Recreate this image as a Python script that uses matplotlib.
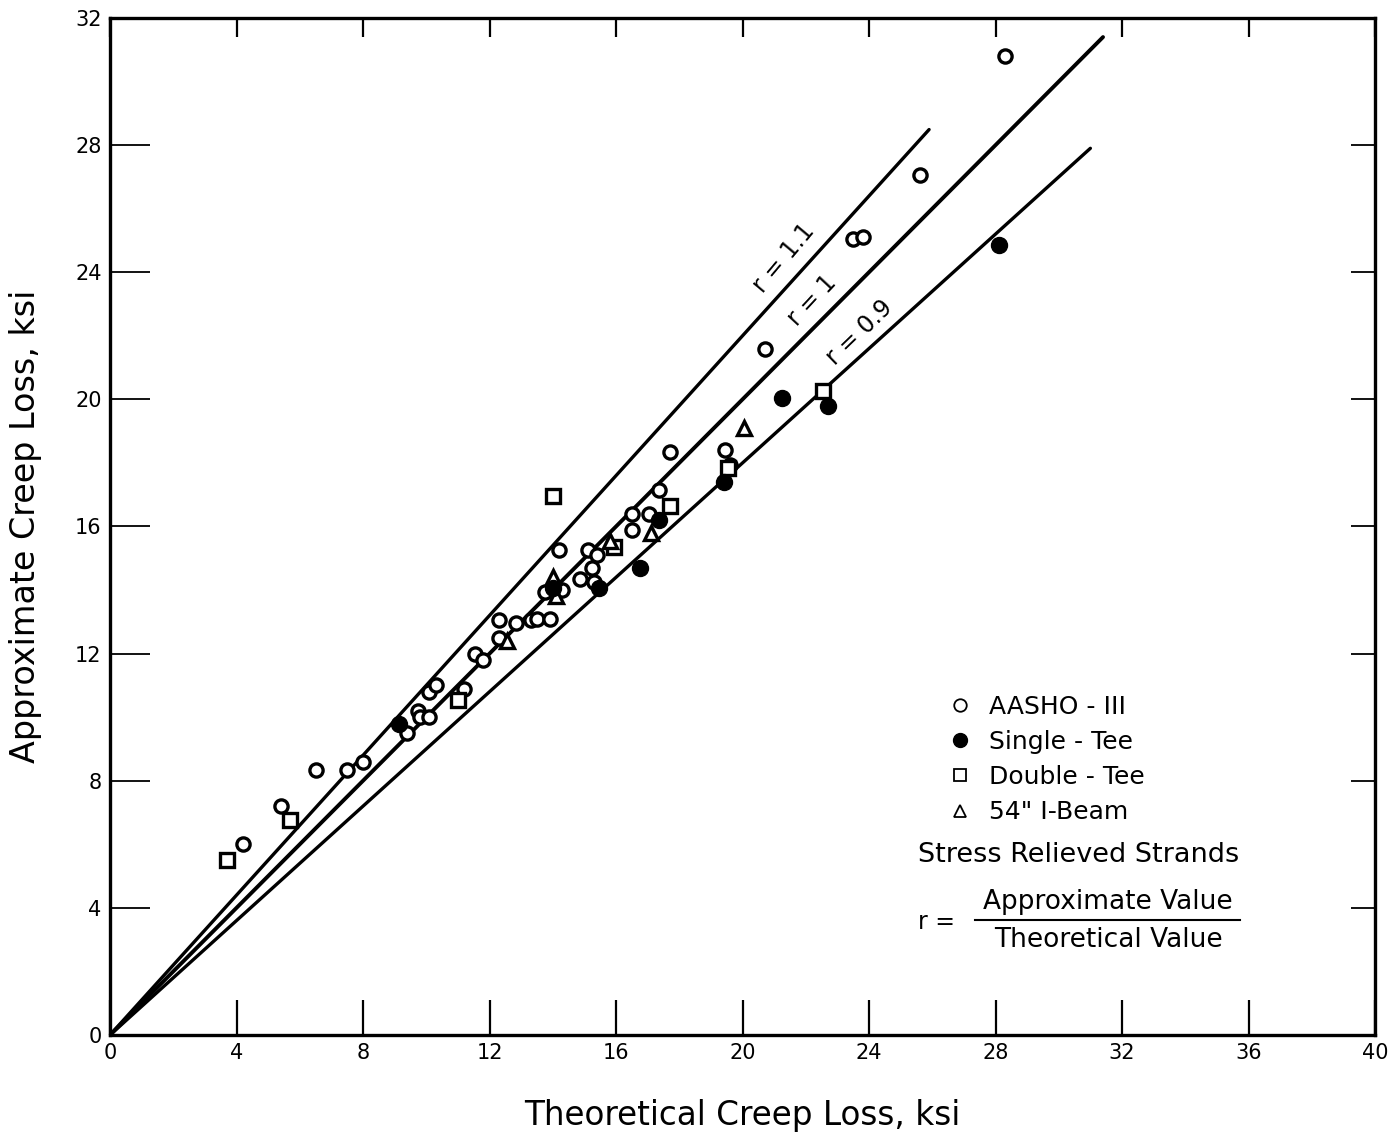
import matplotlib
matplotlib.use("Agg")
import matplotlib.pyplot as plt
from matplotlib.lines import Line2D

# Theoretical (x) vs approximate (y) creep loss, ksi
aasho_x = [4.2, 5.4, 6.5, 7.5, 8.0, 9.4, 9.75, 9.8, 10.1, 10.1, 10.3, 11.2, 11.55, 11.8,
           12.3, 12.3, 12.85, 13.3, 13.5, 13.75, 13.9, 14.2, 14.3, 14.85, 15.1, 15.25,
           15.3, 15.4, 16.5, 16.5, 17.05, 17.35, 17.7, 19.45, 19.6, 20.7, 23.5, 23.8,
           25.6, 28.3]
aasho_y = [6.0, 7.2, 8.35, 8.35, 8.6, 9.5, 10.2, 10.0, 10.0, 10.8, 11.0, 10.9, 12.0, 11.8,
           13.05, 12.5, 12.95, 13.05, 13.1, 13.95, 13.1, 15.25, 14.0, 14.35, 15.25, 14.7,
           14.25, 15.1, 16.4, 15.9, 16.4, 17.15, 18.35, 18.4, 17.95, 21.6, 25.05, 25.1,
           27.05, 30.8]

single_x = [9.15, 14.0, 15.45, 16.75, 17.35, 19.4, 21.25, 22.7, 28.1]
single_y = [9.8, 14.05, 14.05, 14.7, 16.2, 17.4, 20.05, 19.8, 24.85]

double_x = [3.7, 5.7, 11.0, 14.0, 15.95, 17.7, 19.55, 22.55]
double_y = [5.5, 6.75, 10.55, 16.95, 15.35, 16.65, 17.85, 20.25]

ibeam_x = [12.55, 14.0, 14.1, 15.8, 17.1, 20.05]
ibeam_y = [12.4, 14.4, 13.8, 15.55, 15.8, 19.1]

# Reference lines y = r * x
ratios = [1.1, 1.0, 0.9]
ratio_xmax = [25.9, 31.4, 31.0]
ratio_labels = ["r = 1.1", "r = 1", "r = 0.9"]
ratio_label_pos = [(21.3, 24.45), (22.2, 23.1), (23.7, 22.1)]
ratio_label_rot = [50, 47, 44]

xticks = [0, 4, 8, 12, 16, 20, 24, 28, 32, 36, 40]
yticks = [0, 4, 8, 12, 16, 20, 24, 28, 32]

plt.rcParams["font.family"] = ["DejaVu Sans"]

fig = plt.figure(figsize=(13.96, 11.32), dpi=100)
ax = fig.add_axes([110 / 1396, 1 - 1035 / 1132, 1265 / 1396, 1017 / 1132])

for r, xm, lw in zip(ratios, ratio_xmax, [2.4, 2.8, 2.4]):
    ax.plot([0, xm], [0, r * xm], color="black", lw=lw, solid_capstyle="round", zorder=2)

for lab, (tx, ty), rot in zip(ratio_labels, ratio_label_pos, ratio_label_rot):
    ax.text(tx, ty, lab, fontsize=17, rotation=rot, ha="center", va="center",
            rotation_mode="anchor")

h1, = ax.plot(aasho_x, aasho_y, "o", ms=9.5, mfc="white", mec="black", mew=2.4,
              ls="none", zorder=3, label="AASHO - III")
h2, = ax.plot(single_x, single_y, "o", ms=11.5, mfc="black", mec="black", mew=1,
              ls="none", zorder=4, label="Single - Tee")
h3, = ax.plot(double_x, double_y, "s", ms=9.5, mfc="white", mec="black", mew=2.4,
              ls="none", zorder=3, label="Double - Tee")
h4, = ax.plot(ibeam_x, ibeam_y, "^", ms=10.5, mfc="white", mec="black", mew=2.4,
              ls="none", zorder=3, label='54" I-Beam')

handles = [
    Line2D([], [], marker="o", ms=9, mfc="white", mec="black", mew=1.3, ls="none"),
    Line2D([], [], marker="o", ms=10, mfc="black", mec="black", mew=1, ls="none"),
    Line2D([], [], marker="s", ms=8, mfc="white", mec="black", mew=1.3, ls="none"),
    Line2D([], [], marker="^", ms=9, mfc="white", mec="black", mew=1.3, ls="none"),
]
leg = ax.legend(handles, [h1.get_label(), h2.get_label(), h3.get_label(), h4.get_label()],
                loc="upper left", bbox_to_anchor=(0.652, 0.347), frameon=False,
                fontsize=18, handlelength=1.0, handletextpad=0.65, labelspacing=0.45,
                borderpad=0)

ax.text(0.639, 0.177, "Stress Relieved Strands", transform=ax.transAxes,
        fontsize=19.5, ha="left", va="center")
ax.text(0.639, 0.111, "r =", transform=ax.transAxes, fontsize=17, ha="left", va="center")
ax.text(0.789, 0.131, "Approximate Value", transform=ax.transAxes, fontsize=19,
        ha="center", va="center")
ax.plot([0.684, 0.893], [0.113, 0.113], transform=ax.transAxes, color="black", lw=1.5)
ax.text(0.789, 0.093, "Theoretical Value", transform=ax.transAxes, fontsize=19,
        ha="center", va="center")

ax.set_xlim(0, 40)
ax.set_ylim(0, 32)
ax.set_xticks(xticks)
ax.set_yticks(yticks)
ax.tick_params(axis="x", direction="in", length=25, width=1.6, labelsize=15, pad=6)
ax.tick_params(axis="y", direction="in", length=29, width=1.3, labelsize=15, pad=6)
for s in ax.spines.values():
    s.set_linewidth(2.4)

top = ax.secondary_xaxis("top")
top.set_xticks(xticks)
top.tick_params(direction="in", length=14, width=1.6, labeltop=False)
right = ax.secondary_yaxis("right")
right.set_yticks(yticks)
right.tick_params(direction="in", length=17, width=1.3, labelright=False)

ax.set_xlabel("Theoretical Creep Loss, ksi", fontsize=23.5, labelpad=26)
ax.set_ylabel("Approximate Creep Loss, ksi", fontsize=24, labelpad=24)

fig.savefig("out.png", dpi=100)
